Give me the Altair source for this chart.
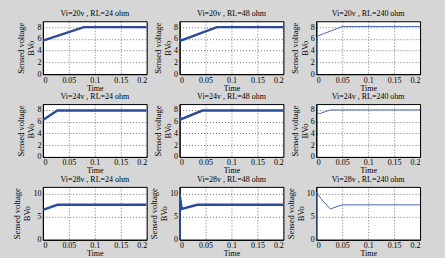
import altair as alt
import pandas as pd

# ---- data ----
TITLES = [
    ["Vi=20v , RL=24 ohm", "Vi=20v , RL=48 ohm", "Vi=20v , RL=240 ohm"],
    ["Vi=24v , RL=24 ohm", "Vi=24v , RL=48 ohm", "Vi=24v , RL=240 ohm"],
    ["Vi=28v , RL=24 ohm", "Vi=28v , RL=48 ohm", "Vi=28v , RL=240 ohm"],
]

T_20_24 = [0, 0.079, 0.2]
V_20_24 = [5.7, 8.0, 8.0]
T_20_48 = [0, 0.002, 0.072, 0.2]
V_20_48 = [6.2, 5.7, 8.0, 8.0]
T_20_240 = [0, 0, 0.003, 0.05, 0.2]
V_20_240 = [0, 6.0, 6.5, 8.1, 8.1]

T_24_24 = [0, 0.028, 0.2]
V_24_24 = [6.3, 7.9, 7.9]
T_24_48 = [0, 0.002, 0.044, 0.2]
V_24_48 = [6.9, 6.4, 7.9, 7.9]
T_24_240 = [0, 0.006, 0.027, 0.2]
V_24_240 = [7.7, 7.35, 8.0, 8.0]

T_28_24 = [0, 0.028, 0.2]
V_28_24 = [6.5, 7.6, 7.6]
T_28_48 = [0, 0, 0.004, 0.034, 0.2]
V_28_48 = [0, 10.0, 6.7, 7.6, 7.6]
T_28_240 = [0, 0, 0.002, 0.01, 0.027, 0.05, 0.2]
V_28_240 = [0, 10.4, 10.1, 8.8, 6.7, 7.6, 7.6]

X_TICKS = [0, 0.05, 0.1, 0.15, 0.2]
Y_TICKS_A = [0, 2, 4, 6, 8]
Y_TICKS_B = [0, 5, 10]
Y_DOM_A = [0, 9]
Y_DOM_B = [0, 11.5]

SERIES = [
    [(T_20_24, V_20_24), (T_20_48, V_20_48), (T_20_240, V_20_240)],
    [(T_24_24, V_24_24), (T_24_48, V_24_48), (T_24_240, V_24_240)],
    [(T_28_24, V_28_24), (T_28_48, V_28_48), (T_28_240, V_28_240)],
]

FONT = "Liberation Serif"


def panel(t, v, title, ydom, yticks, thick):
    df = pd.DataFrame({"t": t, "v": v, "i": list(range(len(t)))})
    return (
        alt.Chart(
            df,
            title=alt.TitleParams(
                title, fontSize=8, font=FONT, fontWeight="normal", color="black", offset=2
            ),
        )
        .mark_line(
            color="#2b4c9b" if thick else "#4a6ab3",
            strokeWidth=2.4 if thick else 1.0,
            clip=True,
        )
        .encode(
            x=alt.X(
                "t:Q",
                scale=alt.Scale(domain=[0, 0.2], nice=False, zero=False),
                axis=alt.Axis(values=X_TICKS, format=".2~f", title="Time", titlePadding=0),
            ),
            y=alt.Y(
                "v:Q",
                scale=alt.Scale(domain=ydom, nice=False),
                axis=alt.Axis(
                    values=yticks,
                    title=["Sensed   voltage", "BVo"],
                    titleFontSize=8.5,
                ),
            ),
            order="i:Q",
        )
        .properties(width=104, height=53)
    )


cells = []
for r in range(3):
    ydom = Y_DOM_A if r < 2 else Y_DOM_B
    yt = Y_TICKS_A if r < 2 else Y_TICKS_B
    for c in range(3):
        cells.append(
            panel(SERIES[r][c][0], SERIES[r][c][1], TITLES[r][c], ydom, yt, c < 2)
        )

chart = (
    alt.concat(
        *cells,
        columns=3,
        spacing=alt.RowColnumber(row=30, column=33),
        bounds="flush",
    )
    .properties(
        padding={"left": 12, "top": 9, "right": 24, "bottom": 7},
        background="#d6d6d6",
    )
    .configure_view(fill="white", stroke="black", strokeWidth=1)
    .configure_axis(
        labelFont=FONT,
        labelFontSize=8,
        labelColor="black",
        labelPadding=2,
        titleFont=FONT,
        titleFontSize=8,
        titleFontWeight="normal",
        titleColor="black",
        titlePadding=1,
        titleLineHeight=10,
        domainColor="black",
        ticks=False,
        gridColor="black",
        gridDash=[1, 2],
        gridOpacity=0.7,
        gridWidth=0.8,
    )
)

chart.save("out.html", embed_options={"renderer": "svg", "actions": False})
